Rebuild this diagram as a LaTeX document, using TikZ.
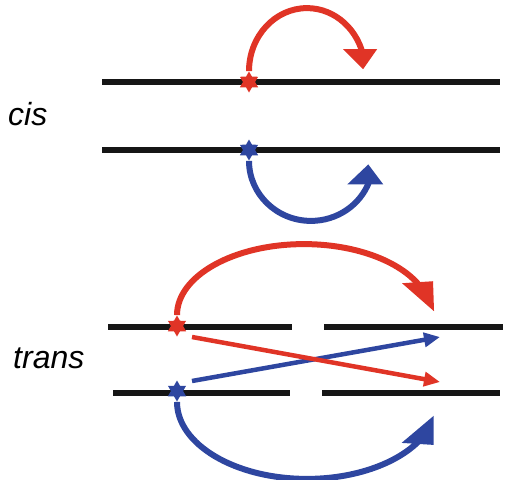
\documentclass[tikz,border=0pt]{standalone}
\usepackage{fontspec}
\setmainfont{Liberation Sans}
\usetikzlibrary{shapes.geometric,arrows.meta}
\definecolor{hotred}{RGB}{224,52,38}
\definecolor{deepblue}{RGB}{46,70,160}
\definecolor{strand}{RGB}{22,22,22}
\begin{document}
\begin{tikzpicture}[x=1pt,y=1pt,
  strandline/.style={draw=strand,line width=5.5pt},
  marker/.style={star,star points=6,star point ratio=1.73,minimum size=21pt,inner sep=0pt,draw=none},
  looparc/.style={line width=6pt},
  crossarrow/.style={line width=4.5pt,-{Triangle[length=16pt,width=14pt]}},
  tag/.style={font=\fontsize{32}{38}\selectfont\itshape,anchor=base west,inner sep=0pt}]
\useasboundingbox (0,-479) rectangle (505,0);

% ---- cis: one pair of strands, both loops stay on their own strand ----
\coordinate (c1l) at (102,-82);  \coordinate (c1r) at (500,-82);
\coordinate (c2l) at (102,-150); \coordinate (c2r) at (500,-150);
\draw[strandline] (c1l) -- (c1r);
\draw[strandline] (c2l) -- (c2r);
\node[marker,fill=hotred]   (rs) at (249,-82)  {};
\node[marker,fill=deepblue] (bs) at (249,-150) {};

\draw[looparc,draw=hotred] (rs.north)
  arc[start angle=180,end angle=10,x radius=58,y radius=63] coordinate (rsend);
\fill[hotred] (rsend) ++(-21,11) -- ++(34,0) -- ++(-14,-20) -- cycle;

\draw[looparc,draw=deepblue] (bs.south)
  arc[start angle=180,end angle=340,x radius=62,y radius=60] coordinate (bsend);
\fill[deepblue] (bsend) ++(-22,-3) -- ++(36,0) -- ++(-15,20) -- cycle;

\node[tag] (cis) at (8,-125) {cis};

% ---- trans: broken strands, loops and crossing arrows ----
\coordinate (t1a) at (108,-327); \coordinate (t1b) at (292,-327);
\coordinate (t1c) at (324,-327); \coordinate (t1d) at (503,-327);
\coordinate (t2a) at (113,-393); \coordinate (t2b) at (290,-393);
\coordinate (t2c) at (322,-393); \coordinate (t2d) at (500,-393);
\draw[strandline] (t1a) -- (t1b);
\draw[strandline] (t1c) -- (t1d);
\draw[strandline] (t2a) -- (t2b);
\draw[strandline] (t2c) -- (t2d);
\node[marker,fill=hotred]   (rts) at (177,-326) {};
\node[marker,fill=deepblue] (bts) at (177,-391) {};

\draw[looparc,draw=hotred] (rts.north)
  arc[start angle=180,end angle=24,x radius=127,y radius=71] coordinate (rtsend);
\fill[hotred] (rtsend) ++(-18,3) -- ++(31,2) -- ++(1,-30) -- cycle;

\draw[looparc,draw=deepblue] (bts.south)
  arc[start angle=180,end angle=330,x radius=130,y radius=77] coordinate (btsend);
\fill[deepblue] (btsend) ++(-18,-2.5) -- ++(32,-2) -- ++(0,29) -- cycle;

\coordinate (ba0) at (192,-381); \coordinate (ba1) at (440,-337);
\coordinate (ra0) at (192,-337); \coordinate (ra1) at (440,-382);
\draw[crossarrow,draw=deepblue,fill=deepblue] (ba0) -- (ba1);
\draw[crossarrow,draw=hotred,fill=hotred] (ra0) -- (ra1);

\node[tag] (trans) at (13,-368) {trans};
\end{tikzpicture}
\end{document}
